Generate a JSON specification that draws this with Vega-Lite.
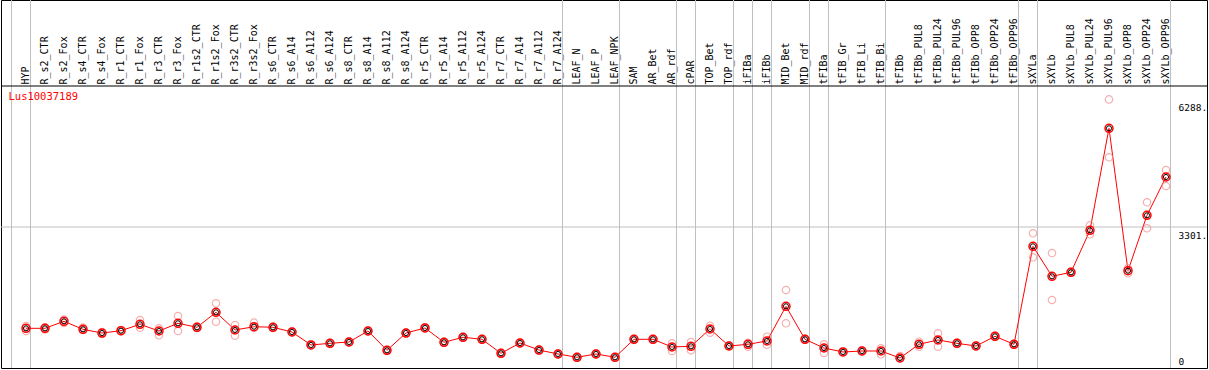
{
  "$schema": "https://vega.github.io/schema/vega-lite/v6.json",
  "autosize": {"type": "none"},
  "padding": {"left": 1, "top": 0, "right": 2, "bottom": 2},
  "width": 1206,
  "height": 368,
  "background": "white",
  "config": {"view": {"stroke": "black", "strokeWidth": 1}},
  "datasets": {
    "means": [
      {"c": "HYP", "v": 929}, {"c": "R_s2_CTR", "v": 929}, {"c": "R_s2_Fox", "v": 1093}, {"c": "R_s4_CTR", "v": 906},
      {"c": "R_s4_Fox", "v": 819}, {"c": "R_r1_CTR", "v": 873}, {"c": "R_r1_Fox", "v": 1023}, {"c": "R_r3_CTR", "v": 866},
      {"c": "R_r3_Fox", "v": 1047}, {"c": "R_r1s2_CTR", "v": 953}, {"c": "R_r1s2_Fox", "v": 1304}, {"c": "R_r3s2_CTR", "v": 890},
      {"c": "R_r3s2_Fox", "v": 967}, {"c": "R_s6_CTR", "v": 953}, {"c": "R_s6_A14", "v": 843}, {"c": "R_s6_A112", "v": 539},
      {"c": "R_s6_A124", "v": 578}, {"c": "R_s8_CTR", "v": 609}, {"c": "R_s8_A14", "v": 866}, {"c": "R_s8_A112", "v": 414},
      {"c": "R_s8_A124", "v": 819}, {"c": "R_r5_CTR", "v": 937}, {"c": "R_r5_A14", "v": 602}, {"c": "R_r5_A112", "v": 719},
      {"c": "R_r5_A124", "v": 672}, {"c": "R_r7_CTR", "v": 344}, {"c": "R_r7_A14", "v": 585}, {"c": "R_r7_A112", "v": 421},
      {"c": "R_r7_A124", "v": 328}, {"c": "LEAF_N", "v": 251}, {"c": "LEAF_P", "v": 328}, {"c": "LEAF_NPK", "v": 251},
      {"c": "SAM", "v": 672}, {"c": "AR_Bet", "v": 672}, {"c": "AR_rdf", "v": 492}, {"c": "cPAR", "v": 508},
      {"c": "TOP_Bet", "v": 913}, {"c": "TOP_rdf", "v": 515}, {"c": "iFIBa", "v": 555}, {"c": "iFIBb", "v": 632},
      {"c": "MID_Bet", "v": 1445}, {"c": "MID_rdf", "v": 672}, {"c": "tFIBa", "v": 468}, {"c": "tFIB_Gr", "v": 375},
      {"c": "tFIB_Li", "v": 398}, {"c": "tFIB_Bi", "v": 398}, {"c": "tFIBb", "v": 234}, {"c": "tFIBb_PUL8", "v": 555},
      {"c": "tFIBb_PUL24", "v": 656}, {"c": "tFIBb_PUL96", "v": 578}, {"c": "tFIBb_OPP8", "v": 515}, {"c": "tFIBb_OPP24", "v": 742},
      {"c": "tFIBb_OPP96", "v": 555}, {"c": "sXYLa", "v": 2849}, {"c": "sXYLb", "v": 2147}, {"c": "sXYLb_PUL8", "v": 2241},
      {"c": "sXYLb_PUL24", "v": 3224}, {"c": "sXYLb_PUL96", "v": 5612}, {"c": "sXYLb_OPP8", "v": 2278}, {"c": "sXYLb_OPP24", "v": 3575},
      {"c": "sXYLb_OPP96", "v": 4472}
    ],
    "reps": [
      {"c": "HYP", "v": 984}, {"c": "HYP", "v": 866},
      {"c": "R_s2_CTR", "v": 955}, {"c": "R_s2_CTR", "v": 905},
      {"c": "R_s2_Fox", "v": 1136}, {"c": "R_s2_Fox", "v": 1054},
      {"c": "R_s4_CTR", "v": 948}, {"c": "R_s4_CTR", "v": 890},
      {"c": "R_s4_Fox", "v": 843}, {"c": "R_s4_Fox", "v": 796},
      {"c": "R_r1_CTR", "v": 890}, {"c": "R_r1_CTR", "v": 855},
      {"c": "R_r1_Fox", "v": 1124}, {"c": "R_r1_Fox", "v": 944},
      {"c": "R_r3_CTR", "v": 929}, {"c": "R_r3_CTR", "v": 766},
      {"c": "R_r3_Fox", "v": 1217}, {"c": "R_r3_Fox", "v": 866},
      {"c": "R_r1s2_CTR", "v": 972}, {"c": "R_r1s2_CTR", "v": 937},
      {"c": "R_r1s2_Fox", "v": 1515}, {"c": "R_r1s2_Fox", "v": 1084},
      {"c": "R_r3s2_CTR", "v": 1007}, {"c": "R_r3s2_CTR", "v": 756},
      {"c": "R_r3s2_Fox", "v": 1061}, {"c": "R_r3s2_Fox", "v": 937},
      {"c": "R_s6_CTR", "v": 965}, {"c": "R_s6_CTR", "v": 940},
      {"c": "R_s6_A14", "v": 855}, {"c": "R_s6_A14", "v": 830},
      {"c": "R_s6_A112", "v": 550}, {"c": "R_s6_A112", "v": 528},
      {"c": "R_s6_A124", "v": 590}, {"c": "R_s6_A124", "v": 566},
      {"c": "R_s8_CTR", "v": 620}, {"c": "R_s8_CTR", "v": 598},
      {"c": "R_s8_A14", "v": 878}, {"c": "R_s8_A14", "v": 854},
      {"c": "R_s8_A112", "v": 425}, {"c": "R_s8_A112", "v": 403},
      {"c": "R_s8_A124", "v": 830}, {"c": "R_s8_A124", "v": 808},
      {"c": "R_r5_CTR", "v": 950}, {"c": "R_r5_CTR", "v": 925},
      {"c": "R_r5_A14", "v": 614}, {"c": "R_r5_A14", "v": 590},
      {"c": "R_r5_A112", "v": 730}, {"c": "R_r5_A112", "v": 708},
      {"c": "R_r5_A124", "v": 684}, {"c": "R_r5_A124", "v": 660},
      {"c": "R_r7_CTR", "v": 355}, {"c": "R_r7_CTR", "v": 333},
      {"c": "R_r7_A14", "v": 597}, {"c": "R_r7_A14", "v": 573},
      {"c": "R_r7_A112", "v": 432}, {"c": "R_r7_A112", "v": 410},
      {"c": "R_r7_A124", "v": 340}, {"c": "R_r7_A124", "v": 316},
      {"c": "LEAF_N", "v": 262}, {"c": "LEAF_N", "v": 240},
      {"c": "LEAF_P", "v": 340}, {"c": "LEAF_P", "v": 316},
      {"c": "LEAF_NPK", "v": 262}, {"c": "LEAF_NPK", "v": 240},
      {"c": "SAM", "v": 684}, {"c": "SAM", "v": 660},
      {"c": "AR_Bet", "v": 684}, {"c": "AR_Bet", "v": 660},
      {"c": "AR_rdf", "v": 578}, {"c": "AR_rdf", "v": 398},
      {"c": "cPAR", "v": 609}, {"c": "cPAR", "v": 414},
      {"c": "TOP_Bet", "v": 990}, {"c": "TOP_Bet", "v": 826},
      {"c": "TOP_rdf", "v": 527}, {"c": "TOP_rdf", "v": 503},
      {"c": "iFIBa", "v": 592}, {"c": "iFIBa", "v": 499},
      {"c": "iFIBb", "v": 733}, {"c": "iFIBb", "v": 546},
      {"c": "MID_Bet", "v": 1826}, {"c": "MID_Bet", "v": 1047},
      {"c": "MID_rdf", "v": 684}, {"c": "MID_rdf", "v": 660},
      {"c": "tFIBa", "v": 555}, {"c": "tFIBa", "v": 351},
      {"c": "tFIB_Gr", "v": 387}, {"c": "tFIB_Gr", "v": 363},
      {"c": "tFIB_Li", "v": 410}, {"c": "tFIB_Li", "v": 386},
      {"c": "tFIB_Bi", "v": 461}, {"c": "tFIB_Bi", "v": 321},
      {"c": "tFIBb", "v": 281}, {"c": "tFIBb", "v": 222},
      {"c": "tFIBb_PUL8", "v": 616}, {"c": "tFIBb_PUL8", "v": 499},
      {"c": "tFIBb_PUL24", "v": 812}, {"c": "tFIBb_PUL24", "v": 499},
      {"c": "tFIBb_PUL96", "v": 590}, {"c": "tFIBb_PUL96", "v": 566},
      {"c": "tFIBb_OPP8", "v": 527}, {"c": "tFIBb_OPP8", "v": 503},
      {"c": "tFIBb_OPP24", "v": 754}, {"c": "tFIBb_OPP24", "v": 730},
      {"c": "tFIBb_OPP96", "v": 567}, {"c": "tFIBb_OPP96", "v": 543},
      {"c": "sXYLa", "v": 3154}, {"c": "sXYLa", "v": 2592},
      {"c": "sXYLb", "v": 2692}, {"c": "sXYLb", "v": 1592},
      {"c": "sXYLb_PUL8", "v": 2253}, {"c": "sXYLb_PUL8", "v": 2229},
      {"c": "sXYLb_PUL24", "v": 3341}, {"c": "sXYLb_PUL24", "v": 3130},
      {"c": "sXYLb_PUL96", "v": 6288}, {"c": "sXYLb_PUL96", "v": 4933},
      {"c": "sXYLb_OPP8", "v": 2334}, {"c": "sXYLb_OPP8", "v": 2217},
      {"c": "sXYLb_OPP24", "v": 3880}, {"c": "sXYLb_OPP24", "v": 3271},
      {"c": "sXYLb_OPP96", "v": 4636}, {"c": "sXYLb_OPP96", "v": 4261}
    ],
    "seps": [
      {"c": "HYP"}, {"c": "R_s2_CTR"}, {"c": "LEAF_N"}, {"c": "SAM"}, {"c": "cPAR"}, {"c": "TOP_Bet"}, {"c": "iFIBa"},
      {"c": "iFIBb"}, {"c": "MID_Bet"}, {"c": "tFIBa"}, {"c": "tFIB_Gr"}, {"c": "tFIBb"}, {"c": "sXYLa"}, {"c": "sXYLb"}
    ],
    "sepEnd": [{"c": "sXYLb_OPP96"}],
    "hlines": [{"v": 3301.2, "k": "grid"}],
    "hhead": [{"v": 6602.4, "k": "head"}],
    "gene": [{"c": "HYP", "t": "Lus10037189", "v": 6602.4}]
  },
  "layer": [
    {
      "data": {"name": "seps"},
      "mark": {"type": "rule", "color": "#c0c0c0", "strokeWidth": 1},
      "encoding": {
        "x": {
          "field": "c", "type": "nominal", "bandPosition": 0,
          "scale": {
            "type": "band", "paddingInner": 0, "paddingOuter": 0, "range": [10.5, 1169.5],
            "domain": ["HYP","R_s2_CTR","R_s2_Fox","R_s4_CTR","R_s4_Fox","R_r1_CTR","R_r1_Fox","R_r3_CTR","R_r3_Fox","R_r1s2_CTR","R_r1s2_Fox","R_r3s2_CTR","R_r3s2_Fox","R_s6_CTR","R_s6_A14","R_s6_A112","R_s6_A124","R_s8_CTR","R_s8_A14","R_s8_A112","R_s8_A124","R_r5_CTR","R_r5_A14","R_r5_A112","R_r5_A124","R_r7_CTR","R_r7_A14","R_r7_A112","R_r7_A124","LEAF_N","LEAF_P","LEAF_NPK","SAM","AR_Bet","AR_rdf","cPAR","TOP_Bet","TOP_rdf","iFIBa","iFIBb","MID_Bet","MID_rdf","tFIBa","tFIB_Gr","tFIB_Li","tFIB_Bi","tFIBb","tFIBb_PUL8","tFIBb_PUL24","tFIBb_PUL96","tFIBb_OPP8","tFIBb_OPP24","tFIBb_OPP96","sXYLa","sXYLb","sXYLb_PUL8","sXYLb_PUL24","sXYLb_PUL96","sXYLb_OPP8","sXYLb_OPP24","sXYLb_OPP96"]
          },
          "axis": {
            "orient": "top", "title": null, "domain": false, "ticks": false, "tickSize": 0, "grid": false,
            "labelOffset": 5,
            "labelAngle": 270, "labelAlign": "left", "labelBaseline": "middle", "labelPadding": -84,
            "labelFont": "DejaVu Sans Mono", "labelFontSize": 10, "labelColor": "black",
            "labelOverlap": false, "labelBound": false, "labelFlush": false, "labelLimit": 0
          }
        }
      }
    },
    {
      "data": {"name": "sepEnd"},
      "mark": {"type": "rule", "color": "#c0c0c0", "strokeWidth": 1},
      "encoding": {
        "x": {"field": "c", "type": "nominal", "bandPosition": 1}
      }
    },
    {
      "data": {"name": "hlines"},
      "mark": {"type": "rule", "color": "#c0c0c0", "strokeWidth": 1},
      "encoding": {
        "y": {
          "field": "v", "type": "quantitative",
          "scale": {"domain": [0, 8615.9], "nice": false, "zero": false},
          "axis": {
            "orient": "right", "title": null, "domain": false, "ticks": false, "tickSize": 0, "grid": false,
            "values": [0, 3301.2, 6288],
            "labelExpr": "datum.value == 0 ? '0' : (datum.value > 5000 ? '6288.' : '3301.')",
            "labelPadding": -29, "labelAlign": "left",
            "labelBaseline": {"condition": {"test": "datum.value == 0", "value": "bottom"}, "value": "top"},
            "labelOffset": {"condition": {"test": "datum.value == 0", "value": -2}, "value": 3},
            "labelFont": "DejaVu Sans Mono", "labelFontSize": 9.5, "labelColor": "black",
            "labelOverlap": false, "labelBound": false, "labelFlush": false
          }
        }
      }
    },
    {
      "data": {"name": "hhead"},
      "mark": {"type": "rule", "color": "black", "strokeWidth": 1},
      "encoding": {"y": {"field": "v", "type": "quantitative"}}
    },
    {
      "data": {"name": "means"},
      "mark": {"type": "line", "color": "#ff0000", "strokeWidth": 1},
      "encoding": {
        "x": {"field": "c", "type": "nominal", "bandPosition": 0.763},
        "y": {"field": "v", "type": "quantitative"}
      }
    },
    {
      "data": {"name": "reps"},
      "mark": {"type": "point", "shape": "circle", "filled": false, "stroke": "#f09090", "strokeWidth": 1.2, "size": 55},
      "encoding": {
        "x": {"field": "c", "type": "nominal", "bandPosition": 0.763},
        "y": {"field": "v", "type": "quantitative"}
      }
    },
    {
      "data": {"name": "means"},
      "mark": {"type": "point", "shape": "circle", "filled": false, "stroke": "#ff0000", "strokeWidth": 1.5, "size": 64, "opacity": 1},
      "encoding": {
        "x": {"field": "c", "type": "nominal", "bandPosition": 0.763},
        "y": {"field": "v", "type": "quantitative"}
      }
    },
    {
      "data": {"name": "means"},
      "mark": {"type": "point", "shape": "circle", "filled": false, "stroke": "#000000", "strokeWidth": 1, "size": 26, "opacity": 1},
      "encoding": {
        "x": {"field": "c", "type": "nominal", "bandPosition": 0.763},
        "y": {"field": "v", "type": "quantitative"}
      }
    },
    {
      "data": {"name": "gene"},
      "mark": {"type": "text", "color": "#ff0000", "font": "DejaVu Sans Mono", "fontSize": 10.5, "align": "left", "baseline": "top", "dx": -3, "dy": 6},
      "encoding": {
        "x": {"field": "c", "type": "nominal", "bandPosition": 0},
        "y": {"field": "v", "type": "quantitative"},
        "text": {"field": "t"}
      }
    }
  ]
}
